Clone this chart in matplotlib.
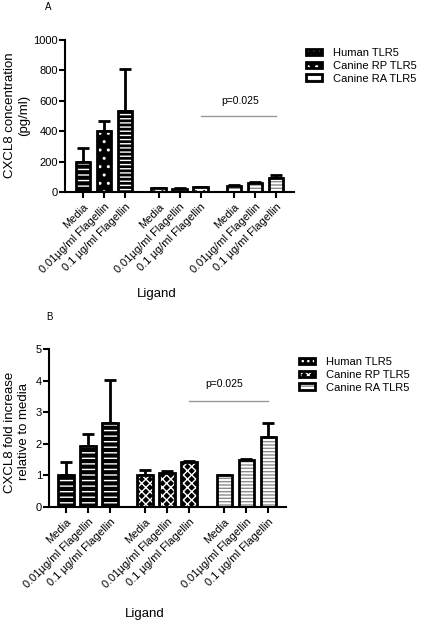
import matplotlib
matplotlib.use("Agg")
import matplotlib.pyplot as plt
from matplotlib.patches import Patch
from matplotlib.legend_handler import HandlerTuple
import numpy as np

plt.rcParams['font.family'] = ['Liberation Sans', 'DejaVu Sans']
plt.rcParams['hatch.linewidth'] = 1.0

# data
ligands = ['Media', '0.01µg/ml Flagellin', '0.1 µg/ml Flagellin']
series = ['Human TLR5', 'Canine RP TLR5', 'Canine RA TLR5']

conc_mean = [200, 400, 530, 25, 22, 30, 42, 62, 92]
conc_err = [90, 65, 280, 3, 3, 5, 3, 3, 23]

fold_mean = [1.0, 1.93, 2.65, 1.0, 1.08, 1.42, 1.0, 1.48, 2.22]
fold_err = [0.42, 0.37, 1.38, 0.18, 0.05, 0.02, 0.01, 0.04, 0.45]

p_text = 'p=0.025'
p_conc = 500
p_fold = 3.35

pos = np.array([0, 1, 2, 3.6, 4.6, 5.6, 7.2, 8.2, 9.2])
w = 0.7

fig = plt.figure(figsize=(4.3, 6.25), dpi=100)
axA = fig.add_axes([0.151, 0.6928, 0.533, 0.2432])
axB = fig.add_axes([0.114, 0.1888, 0.551, 0.2528])

# (fill, hatch colour, hatch) per bar
human = ('black', 'white', '---')
rp_a = ('white', 'black', '..')
rp_b = ('black', 'white', 'xxxx')
ra = ('white', '0.55', '-----')
styleA = [human, ('black', 'white', '..'), ('black', 'white', '----'), rp_a, rp_a, rp_a, ra, ra, ra]
styleB = [human, human, human, rp_b, rp_b, rp_b, ra, ra, ra]


def draw(ax, mean, err, styles):
    for x, h, (fc, hc, ht) in zip(pos, mean, styles):
        ax.bar(x, h, w, color=fc, edgecolor=hc, hatch=ht, linewidth=0, zorder=2)
        ax.bar(x, h, w, fill=False, edgecolor='black', linewidth=2, zorder=3)
    ax.errorbar(pos, mean, yerr=[np.zeros(len(mean)), err], fmt='none', ecolor='black',
                elinewidth=2, capsize=4, capthick=2, zorder=1)
    ax.spines['top'].set_visible(False)
    ax.spines['right'].set_visible(False)
    ax.spines['left'].set_linewidth(1.5)
    ax.spines['bottom'].set_linewidth(1.5)
    ax.set_xticks(pos)
    ax.set_xticklabels(ligands * 3, rotation=45, ha='right', rotation_mode='anchor', fontsize=8)
    ax.tick_params(axis='both', width=1.5, length=4, labelsize=8, pad=1)
    ax.tick_params(axis='x', pad=3)


draw(axA, conc_mean, conc_err, styleA)
axA.set_xlim(pos[0] - 0.86, pos[-1] + 0.86)
axA.set_ylim(0, 1000)
axA.set_yticks([0, 200, 400, 600, 800, 1000])
axA.plot([pos[5], pos[8]], [p_conc, p_conc], color='0.6', lw=1)
axA.text((pos[5] + pos[8]) / 2 + 0.1, p_conc * 1.2, p_text, ha='center', va='center', fontsize=7.5)

draw(axB, fold_mean, fold_err, styleB)
axB.set_xlim(pos[0] - 0.77, pos[-1] + 0.8)
axB.set_ylim(0, 5)
axB.set_yticks([0, 1, 2, 3, 4, 5])
axB.plot([pos[5], pos[8]], [p_fold, p_fold], color='0.6', lw=1)
axB.text((pos[5] + pos[8]) / 2 - 0.2, p_fold + 0.55, p_text, ha='center', va='center', fontsize=7.5)

# labels
fig.text(48 / 430, 1 - 7 / 625, 'A', fontsize=7, ha='center', va='center')
fig.text(49 / 430, 1 - 317 / 625, 'B', fontsize=7, ha='center', va='center')
fig.text(17 / 430, 1 - 115 / 625, 'CXCL8 concentration\n(pg/ml)', rotation=90,
         ha='center', va='center', multialignment='center', fontsize=9.5)
fig.text(17 / 430, 1 - 432 / 625, 'CXCL8 fold increase\nrelative to media', rotation=90,
         ha='center', va='center', multialignment='center', fontsize=9.5)
fig.text(157 / 430, 1 - 294 / 625, 'Ligand', ha='center', va='center', fontsize=9.5)
fig.text(145 / 430, 1 - 614 / 625, 'Ligand', ha='center', va='center', fontsize=9.5)


def handle(fc, hc, ht):
    return (Patch(facecolor=fc, edgecolor=hc, hatch=ht, linewidth=0),
            Patch(fill=False, edgecolor='black', linewidth=2))


legA = [handle('black', 'white', '...'), handle('black', 'white', '..'), handle('white', '0.55', '---')]
legB = [handle('black', 'white', '...'), handle('black', 'white', 'xxxx'), handle('white', '0.55', '---')]

for hs, anchor in [(legA, (306 / 430, 1 - 48 / 625)), (legB, (299 / 430, 1 - 357 / 625))]:
    fig.legend(hs, series, loc='upper left', bbox_to_anchor=anchor, frameon=False,
               fontsize=8, handlelength=1.4, handleheight=0.55, handletextpad=1.0,
               labelspacing=0.25, borderpad=0, borderaxespad=0,
               handler_map={tuple: HandlerTuple(ndivide=1, pad=0)})

fig.savefig('out.png', dpi=100)
